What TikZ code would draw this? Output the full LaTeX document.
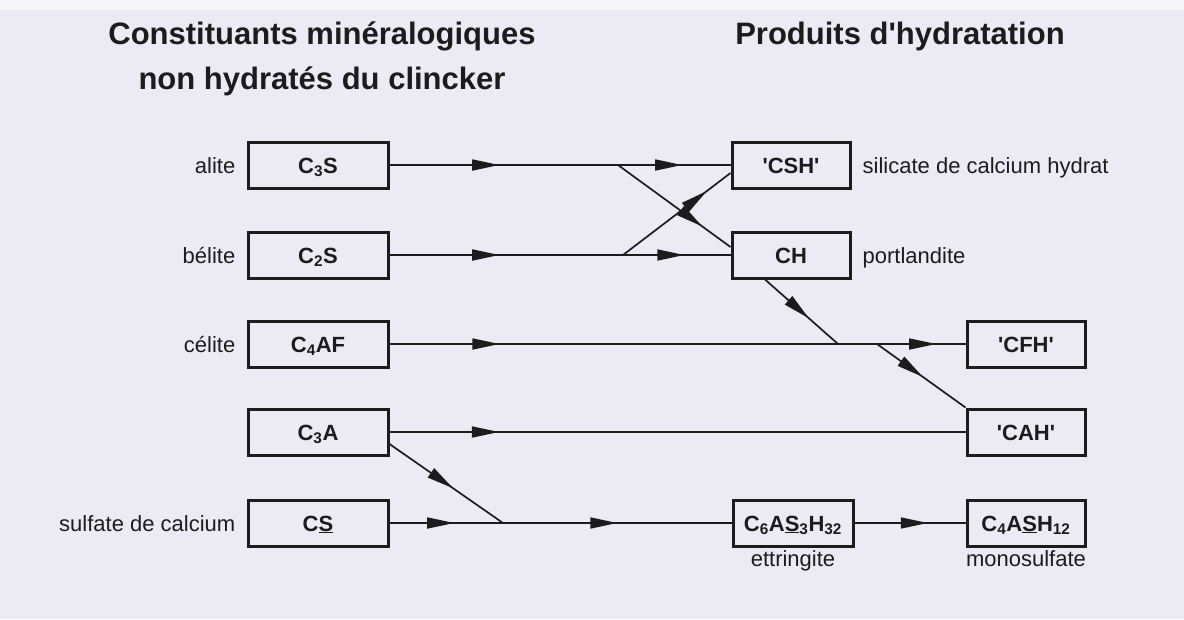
\documentclass[tikz,border=0pt]{standalone}
\usepackage{fontspec}
\setmainfont{Liberation Sans}
\usetikzlibrary{arrows.meta,decorations.markings}
\definecolor{ink}{RGB}{28,28,30}
\definecolor{paper}{RGB}{236,235,244}
\begin{document}
\begin{tikzpicture}[x=1pt,y=-1pt,
  box/.style={draw=ink, line width=3pt, minimum width=140pt, minimum height=46pt,
    inner sep=0pt, text height=16pt, text depth=0pt, text=ink,
    font=\fontsize{22}{26}\selectfont\bfseries},
  rbox/.style={box, minimum width=118pt},
  lbl/.style={font=\fontsize{22}{26}\selectfont, text=ink, inner sep=0pt,
    text height=16pt, text depth=0pt},
  ttl/.style={font=\fontsize{31}{36}\selectfont\bfseries, text=ink, inner sep=0pt},
  conn/.style={draw=ink, line width=1.7pt},
  arr/.style={postaction={decorate, decoration={markings,
    mark=at position #1 with {\arrow{Triangle[length=27pt,width=11pt]}}}}},
]
\fill[paper] (0,0) rectangle (1184,619);
\fill[white!60!paper] (0,0) rectangle (1184,10);
\useasboundingbox (0,0) rectangle (1184,619);

% titles
\node[ttl, anchor=base] (t1) at (322,44) {Constituants minéralogiques};
\node[ttl, anchor=base] (t2) at (322,89) {non hydratés du clincker};
\node[ttl, anchor=base] (t3) at (900,44) {Produits d\textquotesingle hydratation};

% left column
\node[box] (c3s)  at (318,165) {C\textsubscript{3}S};
\node[box] (c2s)  at (318,255) {C\textsubscript{2}S};
\node[box] (c4af) at (318,344) {C\textsubscript{4}AF};
\node[box] (c3a)  at (318,432) {C\textsubscript{3}A};
\node[box] (cs)   at (318,523) {C\underline{S}};

\node[lbl, anchor=east] (alite)  at ([xshift=-11pt]c3s.west)  {alite};
\node[lbl, anchor=east] (belite) at ([xshift=-11pt]c2s.west)  {bélite};
\node[lbl, anchor=east] (celite) at ([xshift=-11pt]c4af.west) {célite};
\node[lbl, anchor=east] (sulf)   at ([xshift=-11pt]cs.west)   {sulfate de calcium};

% right columns
\node[rbox] (csh)  at (791,165) {\textquotesingle CSH\textquotesingle};
\node[rbox] (ch)   at (791,255) {CH};
\node[rbox] (cfh)  at (1026,344) {\textquotesingle CFH\textquotesingle};
\node[rbox] (cah)  at (1026,432) {\textquotesingle CAH\textquotesingle};
\node[rbox, minimum width=120pt] (ett) at (793,523) {C\textsubscript{6}A\underline{S}\textsubscript{3}H\textsubscript{32}};
\node[rbox] (mono) at (1026,523) {C\textsubscript{4}A\underline{S}H\textsubscript{12}};

\node[lbl, anchor=west] (cshl) at ([xshift=11pt]csh.east) {silicate de calcium hydrat};
\node[lbl, anchor=west] (chl)  at ([xshift=11pt]ch.east)  {portlandite};
\node[lbl, anchor=base] (ettl) at ([yshift=-19pt]ett.south) {ettringite};
\node[lbl, anchor=base] (monol) at ([yshift=-19pt]mono.south) {monosulfate};

% junctions
\coordinate (j1) at (618,165);
\coordinate (j2) at (623,255);
\coordinate (j3) at (838,344);
\coordinate (j4) at (877,344);
\coordinate (j5) at (503,523);

% connectors
\draw[conn, arr=0.48] (c3s.east) -- (j1);
\draw[conn, arr=0.57] (j1) -- (csh.west);
\draw[conn, arr=0.75] (j1) -- ([yshift=8pt]ch.west);
\draw[conn, arr=0.47] (c2s.east) -- (j2);
\draw[conn, arr=0.57] (j2) -- (ch.west);
\draw[conn, arr=0.78] (j2) -- ([yshift=-8pt]csh.west);

\draw[conn, arr=0.6] ([xshift=-26pt]ch.south) -- (j3);
\draw[conn, arr=0.245] (c4af.east) -- (j3);
\draw[conn, arr=0.77] (j3) -- (cfh.west);
\draw[conn, arr=0.52] (j4) -- (cah.north west);

\draw[conn, arr=0.19] (c3a.east) -- (cah.west);
\draw[conn, arr=0.56] ([yshift=-12pt]c3a.east) -- (j5);
\draw[conn, arr=0.57] (cs.east) -- (j5);
\draw[conn, arr=0.5] (j5) -- (ett.west);
\draw[conn, arr=0.66] (ett.east) -- (mono.west);
\end{tikzpicture}
\end{document}
